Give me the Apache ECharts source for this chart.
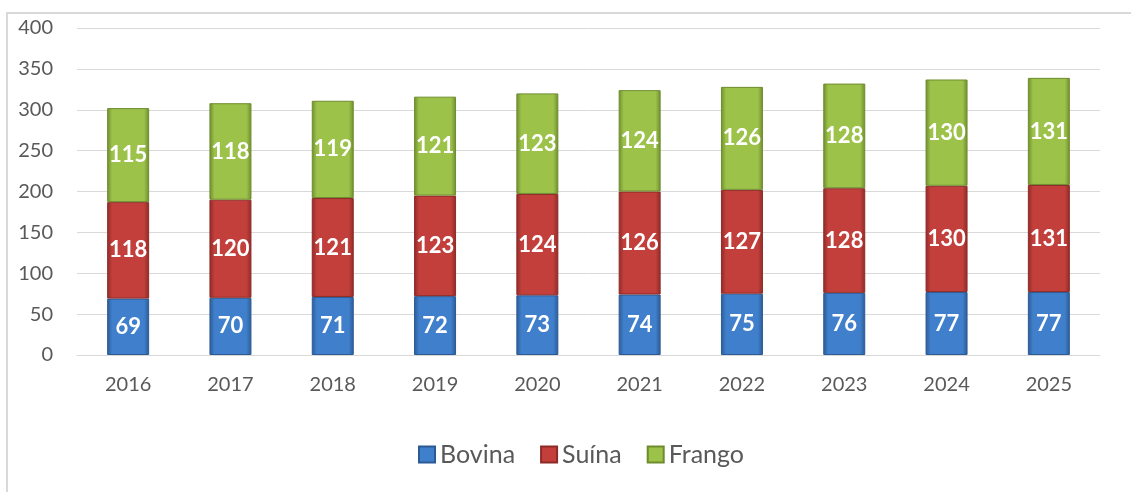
<!DOCTYPE html>
<html>
<head>
<meta charset="utf-8">
<script src="https://cdn.jsdelivr.net/npm/echarts@6/dist/echarts.min.js"></script>
<style>
  html, body { margin: 0; padding: 0; background: #fff; }
  #chart { width: 1131px; height: 492px; }
</style>
</head>
<body>
<div id="chart"></div>
<script>
const years = ["2016", "2017", "2018", "2019", "2020", "2021", "2022", "2023", "2024", "2025"]
const bovina = [69, 70, 71, 72, 73, 74, 75, 76, 77, 77]
const suina = [118, 120, 121, 123, 124, 126, 127, 128, 130, 131]
const frango = [115, 118, 119, 121, 123, 124, 126, 128, 130, 131]

const font = "Lato, 'Open Sans', sans-serif"

// horizontal shading to mimic the bevelled bars
function bevel(edge, mid) {
  return new echarts.graphic.LinearGradient(0, 0, 1, 0, [
    { offset: 0, color: edge },
    { offset: 0.12, color: mid },
    { offset: 0.88, color: mid },
    { offset: 1, color: edge }
  ])
}

function makeSeries(name, data, edge, mid) {
  return {
    name: name,
    type: "bar",
    stack: "total",
    barWidth: 42,
    data: data,
    itemStyle: {
      color: bevel(edge, mid),
      borderColor: edge,
      borderWidth: 1
    },
    label: {
      show: true,
      position: "inside",
      color: "#fff",
      fontFamily: font,
      fontWeight: "bold",
      fontSize: 22
    }
  }
}

const chart = echarts.init(document.getElementById("chart"), null, { renderer: "canvas" })

chart.setOption({
  animation: false,
  textStyle: { fontFamily: font },
  color: ["#3a72b8", "#bb3c38", "#8fb43f"],
  graphic: [{
    type: "rect",
    shape: { x: 7, y: 13, width: 1300, height: 600 },
    style: { fill: "none", stroke: "#d9d9d9", lineWidth: 2 },
    silent: true
  }],
  grid: {
    left: 77,
    right: 31,
    top: 28,
    bottom: 137
  },
  legend: {
    bottom: 20,
    left: 413,
    itemWidth: 16,
    itemHeight: 16,
    itemGap: 25,
    icon: "rect",
    textStyle: { fontSize: 25, color: "#595959", fontFamily: font },
    data: ["Bovina", "Suína", "Frango"]
  },
  xAxis: {
    type: "category",
    data: years,
    axisLine: { lineStyle: { color: "#d9d9d9", width: 1 } },
    axisTick: { show: false },
    axisLabel: { fontSize: 20, color: "#595959", margin: 20, fontFamily: font }
  },
  yAxis: {
    type: "value",
    min: 0,
    max: 400,
    interval: 50,
    axisLine: { show: false },
    axisTick: { show: false },
    splitLine: { lineStyle: { color: "#d9d9d9", width: 1 } },
    axisLabel: { fontSize: 20, color: "#595959", margin: 24, fontFamily: font }
  },
  series: [
    makeSeries("Bovina", bovina, "#2c5a94", "#3f7fcb"),
    makeSeries("Suína", suina, "#8e2a27", "#c23f3b"),
    makeSeries("Frango", frango, "#6e8c2e", "#9cc24a")
  ]
})
</script>
</body>
</html>
